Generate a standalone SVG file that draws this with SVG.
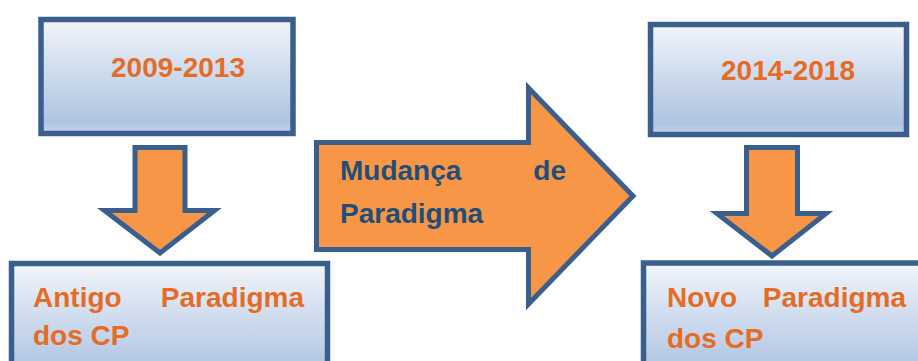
<svg xmlns="http://www.w3.org/2000/svg" width="918" height="361" viewBox="0 0 918 361">
<defs>
<linearGradient id="boxg" x1="0" y1="0" x2="0" y2="1">
<stop offset="0" stop-color="#F2F5FA"/>
<stop offset="0.5" stop-color="#CBD9EC"/>
<stop offset="0.9" stop-color="#AFC4E1"/>
<stop offset="1" stop-color="#C4D3E9"/>
</linearGradient>
<style>
.box{fill:url(#boxg);stroke:#3A5F8C;stroke-width:5.5}
.arrow{fill:#F79646;stroke:#3A5F8C;stroke-width:5;stroke-linejoin:miter}
.ot{font-family:"Liberation Sans",Arial,sans-serif;font-weight:bold;font-size:28px;fill:#E46C26}
.bt{font-family:"Liberation Sans",Arial,sans-serif;font-weight:bold;font-size:28px;fill:#1F4E79}
</style>
</defs>
<rect width="918" height="361" fill="#FFFFFF"/>
<g id="connectors">
<polygon class="arrow" points="135,147.5 185,147.5 185,210.5 214.5,210.5 160,253 104.5,210.5 135,210.5"/>
<polygon class="arrow" points="746.5,147.5 797.5,147.5 797.5,213.5 826,213.5 772,256 717,213.5 746.5,213.5"/>
</g>
<g id="box2009">
<rect class="box" x="41" y="19.5" width="252" height="114"/>
<text class="ot" x="178" y="77" text-anchor="middle">2009-2013</text>
</g>
<g id="boxAntigo">
<rect class="box" x="11.5" y="263.5" width="316" height="120"/>
<text class="ot" x="33" y="307">Antigo</text>
<text class="ot" x="304" y="307" text-anchor="end">Paradigma</text>
<text class="ot" x="33" y="345">dos CP</text>
</g>
<g id="mudanca">
<polygon class="arrow" points="316.5,142.5 528.5,142.5 528.5,88 633,196 528.5,304 528.5,249.5 316.5,249.5"/>
<text class="bt" x="340" y="180">Mudança</text>
<text class="bt" x="566" y="180" text-anchor="end">de</text>
<text class="bt" x="340" y="223">Paradigma</text>
</g>
<g id="box2014">
<rect class="box" x="650.5" y="24.5" width="256" height="110"/>
<text class="ot" x="788" y="80" text-anchor="middle">2014-2018</text>
</g>
<g id="boxNovo">
<rect class="box" x="643.5" y="263" width="290" height="120"/>
<text class="ot" x="667" y="307">Novo</text>
<text class="ot" x="906" y="307" text-anchor="end">Paradigma</text>
<text class="ot" x="667" y="348">dos CP</text>
</g>
</svg>
